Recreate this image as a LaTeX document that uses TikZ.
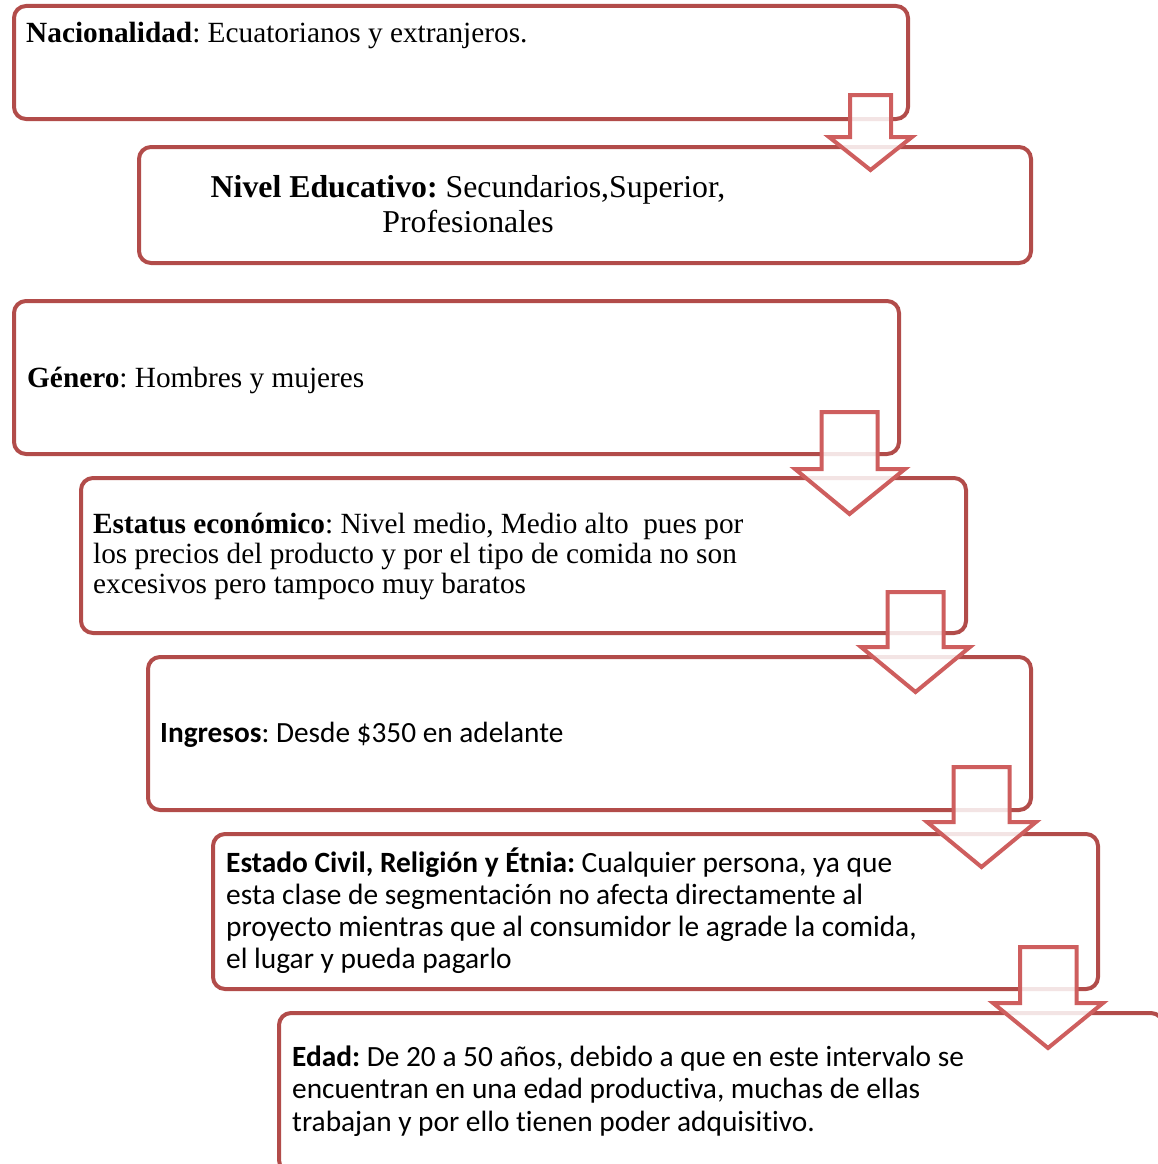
\documentclass[tikz,border=0pt]{standalone}
\usepackage{fontspec}
\setmainfont{Liberation Serif}
\newfontfamily\calibri[Ligatures=NoCommon]{Carlito}
\frenchspacing
\definecolor{boxred}{RGB}{178,76,74}
\definecolor{arrowred}{RGB}{206,94,94}
\tikzset{
  segbox/.style={draw=boxred, line width=4pt, rounded corners=12pt},
  downarrow/.style={draw=arrowred, line width=4pt, fill=white, fill opacity=0.85, line join=miter},
  txt/.style={anchor=base west, inner sep=0pt},
}
\begin{document}
\begin{tikzpicture}[x=1pt,y=-1pt]
\useasboundingbox (0,0) rectangle (1158,1164);
\clip (0,0) rectangle (1158,1164);

% boxes
\draw[segbox] (14,6) rectangle (908,119);
\draw[segbox] (139,147) rectangle (1031,263);
\draw[segbox] (14,301) rectangle (899,454);
\draw[segbox] (81,478) rectangle (966,633);
\draw[segbox] (148,657) rectangle (1031,810);
\draw[segbox] (213,834) rectangle (1098,989);
\draw[segbox] (279,1013) rectangle (1163,1172);

% block arrows between the boxes
% #2 shaft left, #3 shaft right, #4 top, #5 shoulder, #6 head left, #7 head right, #8 tip x, #9 tip y
\newcommand{\blockarrow}[9]{%
  \draw[downarrow] (#2,#4) -- (#2,#5) -- (#6,#5) -- (#8,#9) -- (#7,#5) -- (#3,#5) -- (#3,#4) -- cycle;}
\blockarrow{a1}{850}{891}{95}{137}{829}{912}{870.5}{170}
\blockarrow{a2}{821.5}{877.5}{412}{469}{795}{905}{849.5}{514}
\blockarrow{a3}{887.5}{943.5}{592}{647}{861}{970}{915.5}{692}
\blockarrow{a4}{953.5}{1009.5}{767}{822}{927}{1036}{981.5}{867}
\blockarrow{a5}{1020}{1076.5}{947}{1003}{993}{1103}{1048}{1048}

% texts
\node[txt] (t1) at (26,43) {\fontsize{29.3}{30}\selectfont\textbf{Nacionalidad}: Ecuatorianos y extranjeros.};
\node[inner sep=0pt, anchor=base] (t2) at (468,197) {\parbox[t]{700pt}{\centering\fontsize{31.8}{35}\selectfont
  \textbf{Nivel Educativo:} Secundarios,Superior,\\Profesionales}};
\node[txt] (t3) at (27,387) {\fontsize{29.3}{30}\selectfont\textbf{Género}: Hombres y mujeres};
\node[txt] (t4) at (93,533) {\parbox[t]{800pt}{\raggedright\fontsize{29.3}{30}\selectfont
  \textbf{Estatus económico}: Nivel medio, Medio alto\ \ pues por\\
  los precios del producto y por el tipo de comida no son\\
  excesivos pero tampoco muy baratos}};
\node[txt] (t5) at (160,742) {\calibri\fontsize{29.3}{32}\selectfont\textbf{Ingresos}: Desde \$350 en adelante};
\node[txt] (t6) at (226,872) {\parbox[t]{800pt}{\raggedright\calibri\fontsize{29.4}{32}\selectfont
  \textbf{Estado Civil, Religión y Étnia:} Cualquier persona, ya que\\
  esta clase de segmentación no afecta directamente al\\
  proyecto mientras que al consumidor le agrade la comida,\\
  el lugar y pueda pagarlo}};
\node[txt] (t7) at (292,1066) {\parbox[t]{800pt}{\raggedright\calibri\fontsize{29.35}{32.5}\selectfont
  \textbf{Edad:} De 20 a 50 años, debido a que en este intervalo se\\
  encuentran en una edad productiva, muchas de ellas\\
  trabajan y por ello tienen poder adquisitivo.}};
\end{tikzpicture}
\end{document}
